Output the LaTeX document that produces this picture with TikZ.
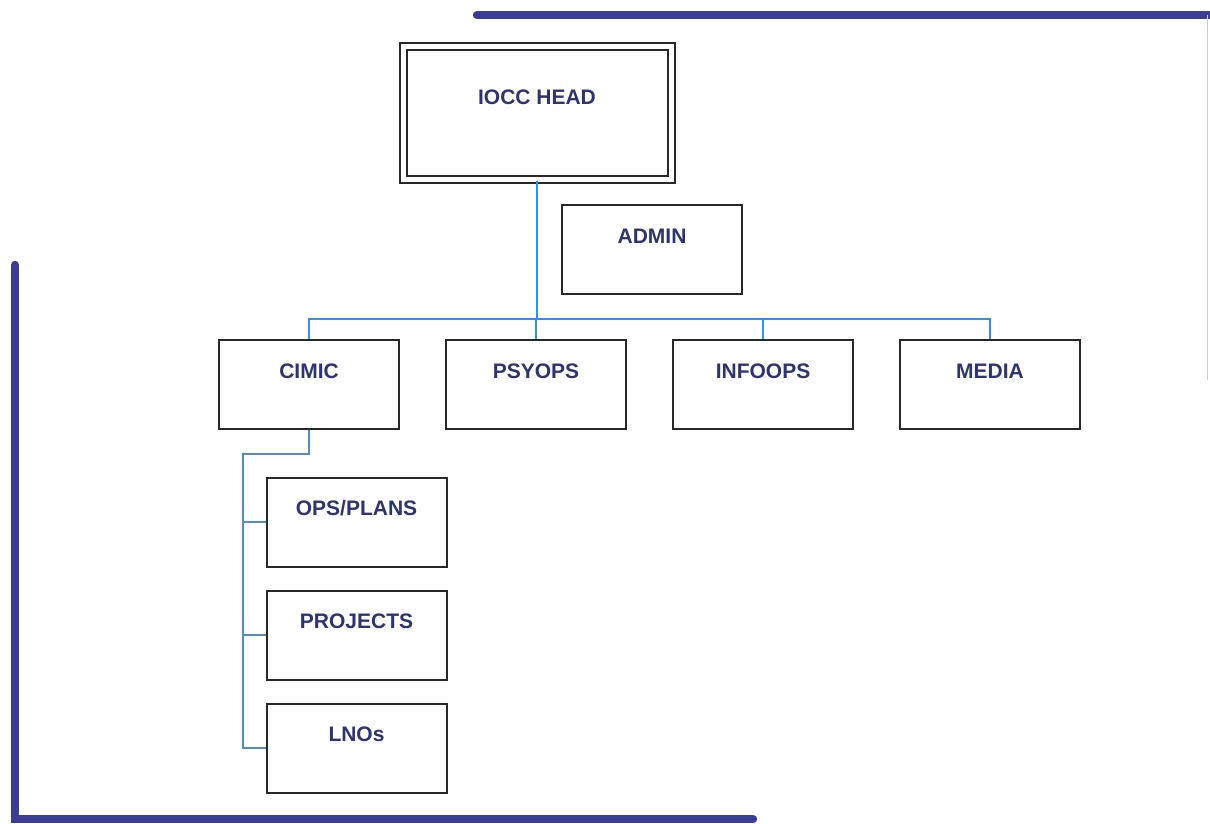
\documentclass[tikz,border=0pt]{standalone}
\usepackage{fontspec}
\setmainfont{Liberation Sans}
\usetikzlibrary{trees}
\definecolor{ink}{RGB}{45,52,110}
\definecolor{frame}{RGB}{58,60,150}
\definecolor{bus}{RGB}{50,145,230}
\definecolor{subbus}{RGB}{85,140,190}
\definecolor{boxline}{RGB}{40,40,40}

\begin{document}
\begin{tikzpicture}
  [x=0.5pt,y=-0.5pt,
   unit/.style={draw=boxline,line width=1pt,minimum width=90pt,
     text height=19pt,text depth=25.5pt,inner sep=0pt,
     font=\bfseries\fontsize{10.5}{12}\selectfont,text=ink},
   head/.style={unit,double,double distance=2.5pt,minimum width=134pt,
     text height=28.75pt,text depth=37.5pt},
   bar/.style={draw=frame,line width=4.2pt,line cap=round},
   edge from parent/.style={draw=bus,line width=1pt},
   level 1/.append style=
     {grow via three points={one child at (-228,271.25)
        and two children at (-228,271.25) and (-1,271.25)},
      edge from parent path=
        {(\tikzparentnode.south) -- ++(0,138) -| (\tikzchildnode.north)}},
   level 2/.append style=
     {grow via three points={one child at (47.5,137.5)
        and two children at (47.5,137.5) and (47.5,250.5)},
      edge from parent/.style={draw=subbus,line width=0.9pt},
      edge from parent path=
        {(\tikzparentnode.south) -- ++(0,24) -- ++(-66,0) |- (\tikzchildnode.west)}}
  ]
  \fill[white] (0,0) rectangle (1210,824);
  \useasboundingbox (0,0) rectangle (1210,824);
  \draw[bar] (477,15) -- (1212,15);
  \draw[draw=black!20,line width=0.4pt] (1207,15) -- (1207,380);
  \draw[bar] (15,265) -- (15,819) -- (753,819);
  \node[unit,anchor=north west] (admin) at (561,204) {ADMIN};
  \node[head] (head) at (537,113.25) {IOCC HEAD}
    child {node[unit] (cimic) {CIMIC}
      child {node[unit] (opsplans) {OPS/PLANS}}
      child {node[unit] (projects) {PROJECTS}}
      child {node[unit] (lnos) {LNOs}}
    }
    child {node[unit] (psyops) {PSYOPS}}
    child {node[unit] (infoops) {INFOOPS}}
    child {node[unit] (media) {MEDIA}};
\end{tikzpicture}
\end{document}
